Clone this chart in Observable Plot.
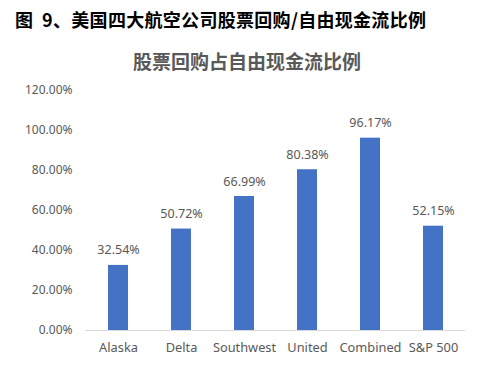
<!DOCTYPE html>
<html><head><meta charset="utf-8">
<script src="https://cdn.jsdelivr.net/npm/d3@7"></script>
<script src="https://cdn.jsdelivr.net/npm/@observablehq/plot@0.6"></script>
<style>
html,body{margin:0;padding:0;background:#fff;}
#wrap{position:relative;width:486px;height:377px;overflow:hidden;}
#title{position:absolute;left:15px;top:6px;font:bold 18px "Noto Sans CJK SC";color:#000;white-space:nowrap;letter-spacing:0.3px;}
#sub{position:absolute;left:0;width:494px;top:47px;text-align:center;font:bold 19px "Noto Sans CJK SC";color:#595959;white-space:nowrap;}
#chart{position:absolute;left:0;top:0;}
</style></head>
<body><div id="wrap">
<div id="chart"></div>
<div id="title">图&nbsp; 9、美国四大航空公司股票回购/自由现金流比例</div>
<div id="sub">股票回购占自由现金流比例</div>
</div>
<script>
const categories = ["Alaska","Delta","Southwest","United","Combined","S&P 500"];
const values = [0.3254,0.5072,0.6699,0.8038,0.9617,0.5215];
const yTicks = [0,0.2,0.4,0.6,0.8,1.0,1.2];
const data = categories.map((c,i)=>({cat:c,val:values[i]}));
const pct = d3.format(".2%");
const chart = Plot.plot({
  width:486,height:377,
  marginTop:90,marginBottom:47,marginLeft:85,marginRight:21,
  style:{fontFamily:"'Noto Sans', sans-serif",fontSize:"12px",color:"#595959",background:"transparent"},
  x:{domain:categories,paddingInner:0.684,paddingOuter:0.342,label:null},
  y:{domain:[0,1.2],label:null},
  marks:[
    Plot.axisY({ticks:yTicks,tickFormat:pct,tickSize:0,tickPadding:13,fontSize:12,fill:"#595959",label:null}),
    Plot.axisX({tickSize:0,tickPadding:12,fontSize:12.8,fill:"#595959",label:null}),
    Plot.barY(data,{x:"cat",y:"val",fill:"#4472C4"}),
    Plot.ruleY([0],{stroke:"#d9d9d9",strokeWidth:1}),
    Plot.text(data,{x:"cat",y:"val",text:d=>pct(d.val),dy:-15,fontSize:12.5,fill:"#595959"})
  ]
});
document.getElementById("chart").appendChild(chart);
</script>
</body></html>
